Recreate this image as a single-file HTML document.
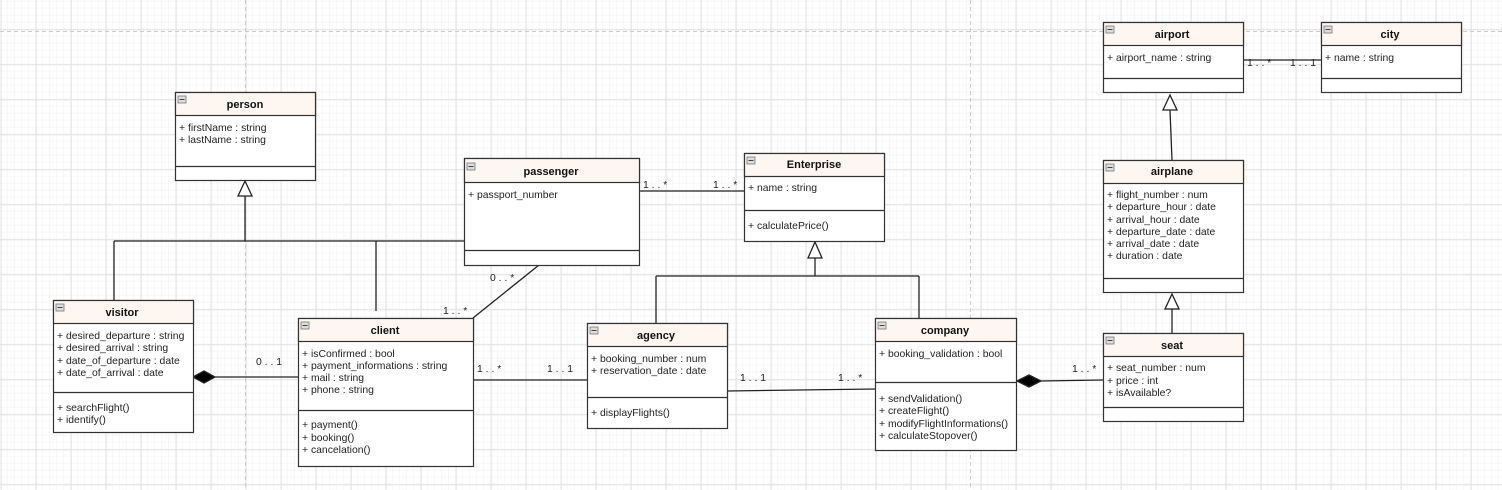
<!DOCTYPE html>
<html><head><meta charset="utf-8"><style>
html,body{margin:0;padding:0;background:#fff}
svg{display:block;font-family:"Liberation Sans",sans-serif}
.t{font-size:11px;font-weight:bold;text-anchor:middle;fill:#111}
.a{font-size:10.4px;fill:#222}
.l{font-size:10.4px;fill:#222}
</style></head><body>
<svg width="1502" height="490" viewBox="0 0 1502 490" xmlns="http://www.w3.org/2000/svg">
<defs>
<pattern id="mn" x="0.7" y="1.3" width="7" height="7" patternUnits="userSpaceOnUse"><path d="M7 0V7M0 7H7" stroke="#f0f0f0" stroke-width="1" fill="none"/></pattern>
<pattern id="mj" x="0.7" y="29.3" width="35" height="35" patternUnits="userSpaceOnUse"><path d="M0.5 0V35M0 0.5H35" stroke="#e3e3e3" stroke-width="1" fill="none"/></pattern>
<g id="mi"><rect x="0" y="0" width="8" height="7" fill="#ddd" stroke="#777" stroke-width="0.8"/><line x1="1.5" y1="3.5" x2="6.5" y2="3.5" stroke="#444"/></g>
</defs>
<rect width="1502" height="490" fill="url(#mn)"/>
<rect width="1502" height="490" fill="url(#mj)"/>
<line x1="0" y1="31.5" x2="1502" y2="31.5" stroke="#ccc" stroke-dasharray="4,3"/>
<line x1="245.5" y1="0" x2="245.5" y2="490" stroke="#ccc" stroke-dasharray="4,3"/>
<line x1="970.5" y1="0" x2="970.5" y2="490" stroke="#ccc" stroke-dasharray="4,3"/>

<g stroke="#222" stroke-width="1.3" fill="none">
<line x1="245" y1="196" x2="245" y2="241"/>
<line x1="114" y1="241" x2="464" y2="241"/>
<line x1="114" y1="241" x2="114" y2="300"/>
<line x1="376" y1="241" x2="376" y2="311"/>
<polygon points="245,181 238,196 252,196" fill="#fff"/>
<line x1="539" y1="265" x2="473" y2="318"/>
<line x1="639" y1="191" x2="744" y2="191"/>
<line x1="815" y1="258" x2="815" y2="276"/>
<line x1="656" y1="276" x2="919" y2="276"/>
<line x1="656" y1="276" x2="656" y2="323"/>
<line x1="919" y1="276" x2="919" y2="318"/>
<polygon points="815,242 808,258 822,258" fill="#fff"/>
<line x1="215" y1="377" x2="298" y2="377"/>
<polygon points="193,377 204,371 215,377 204,383" fill="#000"/>
<line x1="473" y1="380" x2="587" y2="380"/>
<line x1="727" y1="391" x2="875" y2="389"/>
<line x1="1041" y1="381" x2="1103" y2="380"/>
<polygon points="1017,381 1029,375 1041,381 1029,387" fill="#000"/>
<line x1="1170" y1="110" x2="1172" y2="160"/>
<polygon points="1170,95 1163,110 1177,110" fill="#fff"/>
<line x1="1172" y1="309" x2="1172" y2="333"/>
<polygon points="1172,294 1165,309 1179,309" fill="#fff"/>
<line x1="1243" y1="60" x2="1321" y2="60"/>
</g>

<g class="l">
<text x="490" y="281">0 . . *</text>
<text x="443" y="314">1 . . *</text>
<text x="643" y="188">1 . . *</text>
<text x="713" y="188">1 . . *</text>
<text x="256" y="365">0 . . 1</text>
<text x="477" y="372">1 . . *</text>
<text x="547" y="372">1 . . 1</text>
<text x="740" y="381">1 . . 1</text>
<text x="838" y="381">1 . . *</text>
<text x="1072" y="372">1 . . *</text>
<text x="1247" y="66">1 . . *</text>
<text x="1290" y="66">1 . . 1</text>
</g>

<g stroke="#333" stroke-width="1.2">
<rect x="175.5" y="92.5" width="140" height="88" fill="#fff"/><rect x="175.5" y="92.5" width="140" height="23" fill="#fdf6f1"/><line x1="175.5" y1="166.5" x2="315.5" y2="166.5"/>
<rect x="464.5" y="158.5" width="175" height="107" fill="#fff"/><rect x="464.5" y="158.5" width="175" height="24" fill="#fdf6f1"/><line x1="464.5" y1="250.5" x2="639.5" y2="250.5"/>
<rect x="744.5" y="153.5" width="140" height="88" fill="#fff"/><rect x="744.5" y="153.5" width="140" height="23" fill="#fdf6f1"/><line x1="744.5" y1="210.5" x2="884.5" y2="210.5"/>
<rect x="1103.5" y="22.5" width="140" height="70" fill="#fff"/><rect x="1103.5" y="22.5" width="140" height="23" fill="#fdf6f1"/><line x1="1103.5" y1="78.5" x2="1243.5" y2="78.5"/>
<rect x="1321.5" y="22.5" width="140" height="70" fill="#fff"/><rect x="1321.5" y="22.5" width="140" height="23" fill="#fdf6f1"/><line x1="1321.5" y1="78.5" x2="1461.5" y2="78.5"/>
<rect x="1103.5" y="160.5" width="140" height="132" fill="#fff"/><rect x="1103.5" y="160.5" width="140" height="23" fill="#fdf6f1"/><line x1="1103.5" y1="278.5" x2="1243.5" y2="278.5"/>
<rect x="1103.5" y="333.5" width="140" height="88" fill="#fff"/><rect x="1103.5" y="333.5" width="140" height="23" fill="#fdf6f1"/><line x1="1103.5" y1="407.5" x2="1243.5" y2="407.5"/>
<rect x="53.5" y="300.5" width="140" height="132" fill="#fff"/><rect x="53.5" y="300.5" width="140" height="23" fill="#fdf6f1"/><line x1="53.5" y1="392.5" x2="193.5" y2="392.5"/>
<rect x="298.5" y="318.5" width="175" height="148" fill="#fff"/><rect x="298.5" y="318.5" width="175" height="23" fill="#fdf6f1"/><line x1="298.5" y1="410.5" x2="473.5" y2="410.5"/>
<rect x="587.5" y="323.5" width="140" height="105" fill="#fff"/><rect x="587.5" y="323.5" width="140" height="23" fill="#fdf6f1"/><line x1="587.5" y1="397.5" x2="727.5" y2="397.5"/>
<rect x="875.5" y="318.5" width="141" height="132" fill="#fff"/><rect x="875.5" y="318.5" width="141" height="23" fill="#fdf6f1"/><line x1="875.5" y1="382.5" x2="1016.5" y2="382.5"/>
</g>

<use href="#mi" x="178" y="96"/><use href="#mi" x="467" y="163"/><use href="#mi" x="747" y="157"/>
<use href="#mi" x="1106" y="26"/><use href="#mi" x="1324" y="26"/><use href="#mi" x="1106" y="164"/>
<use href="#mi" x="1106" y="337"/><use href="#mi" x="56" y="304"/><use href="#mi" x="301" y="322"/>
<use href="#mi" x="590" y="327"/><use href="#mi" x="878" y="322"/>

<text class="t" x="245" y="108">person</text>
<text class="t" x="551" y="175">passenger</text>
<text class="t" x="814" y="168">Enterprise</text>
<text class="t" x="1172" y="38">airport</text>
<text class="t" x="1390" y="38">city</text>
<text class="t" x="1172" y="175">airplane</text>
<text class="t" x="1172" y="349">seat</text>
<text class="t" x="122" y="316">visitor</text>
<text class="t" x="385" y="334">client</text>
<text class="t" x="656" y="339">agency</text>
<text class="t" x="945" y="334">company</text>

<g class="a">
<text x="179" y="131">+ firstName : string</text>
<text x="179" y="143">+ lastName : string</text>
<text x="468" y="198">+ passport_number</text>
<text x="748" y="191">+ name : string</text>
<text x="748" y="229">+ calculatePrice()</text>
<text x="1107" y="61">+ airport_name : string</text>
<text x="1325" y="61">+ name : string</text>
<text x="1107" y="198">+ flight_number : num</text>
<text x="1107" y="210">+ departure_hour : date</text>
<text x="1107" y="223">+ arrival_hour : date</text>
<text x="1107" y="235">+ departure_date : date</text>
<text x="1107" y="247">+ arrival_date : date</text>
<text x="1107" y="259">+ duration : date</text>
<text x="1107" y="371">+ seat_number : num</text>
<text x="1107" y="384">+ price : int</text>
<text x="1107" y="396">+ isAvailable?</text>
<text x="57" y="339">+ desired_departure : string</text>
<text x="57" y="351">+ desired_arrival : string</text>
<text x="57" y="364">+ date_of_departure : date</text>
<text x="57" y="376">+ date_of_arrival : date</text>
<text x="57" y="411">+ searchFlight()</text>
<text x="57" y="423">+ identify()</text>
<text x="302" y="357">+ isConfirmed : bool</text>
<text x="302" y="369">+ payment_informations : string</text>
<text x="302" y="381">+ mail : string</text>
<text x="302" y="393">+ phone : string</text>
<text x="302" y="428">+ payment()</text>
<text x="302" y="441">+ booking()</text>
<text x="302" y="453">+ cancelation()</text>
<text x="591" y="362">+ booking_number : num</text>
<text x="591" y="374">+ reservation_date : date</text>
<text x="591" y="416">+ displayFlights()</text>
<text x="879" y="357">+ booking_validation : bool</text>
<text x="879" y="402">+ sendValidation()</text>
<text x="879" y="414">+ createFlight()</text>
<text x="879" y="427">+ modifyFlightInformations()</text>
<text x="879" y="439">+ calculateStopover()</text>
</g>
</svg>
</body></html>
